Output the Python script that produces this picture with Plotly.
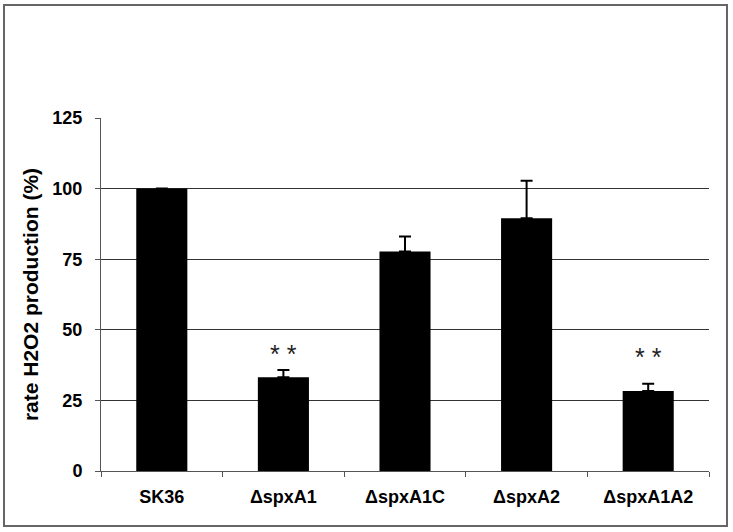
import plotly.graph_objects as go

categories = ["SK36", "ΔspxA1", "ΔspxA1C", "ΔspxA2", "ΔspxA1A2"]
rates = [100, 33.2, 77.7, 89.5, 28.3]
errors_up = [0, 2.6, 5.3, 13.3, 2.6]
sig_labels = ["", "* *", "", "", "* *"]
sig_y = [None, 41.5, None, None, 40.5]
y_ticks = [0, 25, 50, 75, 100, 125]
grid_vals = [25, 50, 75, 100]

W, H = 733, 532
ML, MR, MT, MB = 101, 24, 118, 61
pw, ph = W - ML - MR, H - MT - MB

fig = go.Figure()
fig.add_trace(go.Bar(
    x=categories, y=rates, width=0.42,
    marker=dict(color="black", line=dict(width=0)),
    error_y=dict(type="data", symmetric=False, array=errors_up,
                 arrayminus=[0] * len(errors_up),
                 color="black", thickness=2, width=6),
    showlegend=False,
))
# invisible trace on overlay axis to host grid lines
fig.add_trace(go.Scatter(x=categories, y=rates, yaxis="y2", mode="markers",
                         marker=dict(opacity=0), showlegend=False, hoverinfo="skip"))

for c, s, yy in zip(categories, sig_labels, sig_y):
    if s:
        fig.add_annotation(x=c, y=yy, text=s, showarrow=False,
                           font=dict(family="Liberation Sans, Arial", size=25, color="#222"))

bold = "Liberation Sans, Arial"
fig.update_layout(
    width=W, height=H,
    margin=dict(l=ML, r=MR, t=MT, b=MB),
    paper_bgcolor="white", plot_bgcolor="rgba(0,0,0,0)",
    xaxis=dict(
        showgrid=False, showline=True, linecolor="#555", linewidth=1,
        ticks="outside", tickson="boundaries", ticklen=5, tickcolor="#555",
        tickfont=dict(family=bold, size=18, color="black", weight="bold"),
        ticklabelstandoff=9,
    ),
    yaxis=dict(
        range=[0, 125], tickvals=y_ticks, showgrid=False,
        showline=True, linecolor="#555", linewidth=1,
        ticks="outside", ticklen=5, tickcolor="#555",
        tickfont=dict(family=bold, size=18, color="black", weight="bold"),
        ticklabelstandoff=9,
        title=dict(text="<b>rate H2O2 production (%)</b>",
                   font=dict(family=bold, size=21, color="black"), standoff=8),
        zeroline=False,
    ),
    yaxis2=dict(
        range=[0, 125], overlaying="y", tickvals=grid_vals, showticklabels=False,
        showgrid=True, gridcolor="#333", gridwidth=1, zeroline=False, showline=False,
    ),
    shapes=[dict(type="rect", xref="paper", yref="paper",
                 x0=(4 - ML) / pw, x1=(727 - ML) / pw,
                 y0=-(526 - (H - MB)) / ph, y1=((H - MB) - 5) / ph,
                 line=dict(color="#666", width=2), layer="below")],
)
fig.write_html("out.html", config={"displayModeBar": False},
               post_script="document.body.style.margin='0';document.body.style.overflow='hidden';")
